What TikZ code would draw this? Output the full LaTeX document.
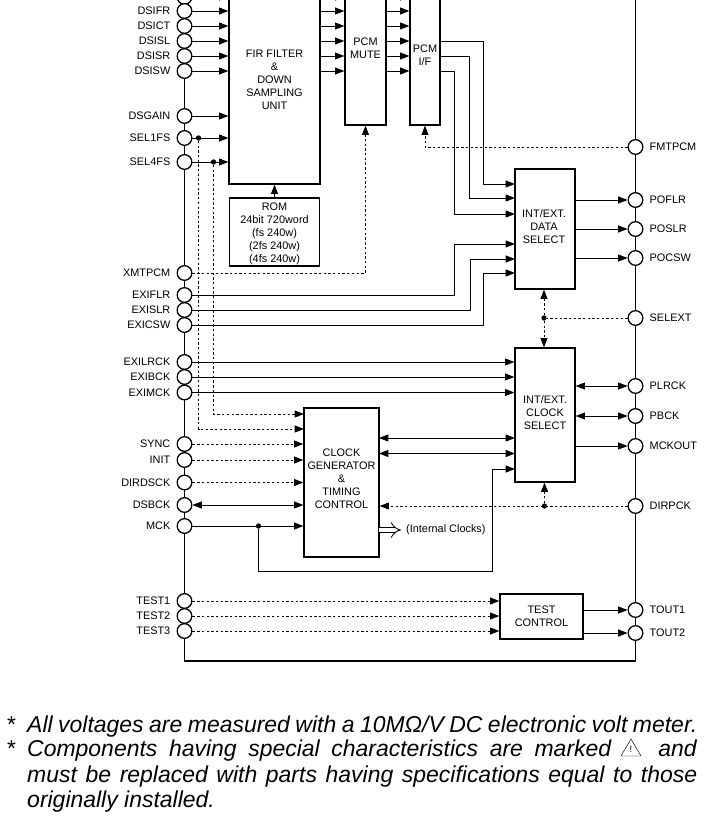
\documentclass[tikz,border=0pt]{standalone}
\usepackage{fontspec}
\setmainfont{Liberation Sans}
\usetikzlibrary{arrows.meta,calc}
\tikzset{
    every label/.style={font=\fontsize{9.3pt}{11pt}\selectfont,inner sep=0pt},
    label distance=0.18cm,
    pin/.style={circle,draw,fill=white,line width=1.1pt,minimum size=0.44cm,inner sep=0pt},
    dot/.style={circle,fill=black,minimum size=0.16cm,inner sep=0pt},
    box/.style={draw,line width=1.1pt,inner sep=0pt,align=center,font=\fontsize{9.3pt}{11.1pt}\selectfont},
    plaintext/.style={inner sep=0pt,font=\fontsize{9.3pt}{11.1pt}\selectfont,align=center},
    sig/.style={line width=0.75pt,-{Triangle[length=2.8mm,width=2.1mm]}},
    bisig/.style={line width=0.75pt,{Triangle[length=2.8mm,width=2.1mm]}-{Triangle[length=2.8mm,width=2.1mm]}},
    dsig/.style={sig,dash pattern=on 2pt off 2pt},
    noteline/.style={anchor=base west,inner sep=0pt,font=\fontsize{19.6pt}{22pt}\selectfont\itshape},
}

\begin{document}
\begin{tikzpicture}[x=0.03cm,y=-0.03cm]
    \clip (0,0) rectangle (717,818);

    % frame
    \draw[line width=1.1pt] (184.5,-5) -- (184.5,661) -- (635.5,661) -- (635.5,-5);

    % pins
    \foreach \pinname/\y in {DSIFL/-3,DSIFR/11,DSICT/26,DSISL/41,DSISR/56,DSISW/71,DSGAIN/116,SEL1FS/138,SEL4FS/162,XMTPCM/273,EXIFLR/295,EXISLR/310,EXICSW/325,EXILRCK/362,EXIBCK/377,EXIMCK/392.5,SYNC/444,INIT/460,DIRDSCK/482.5,DSBCK/505,MCK/526,TEST1/601,TEST2/616,TEST3/631}
        \node[pin,label={left:\pinname}] (\pinname) at (184.5,\y) {};
    \foreach \pinname/\y in {FMTPCM/147,POFLR/200,POSLR/229,POCSW/258,SELEXT/318,PLRCK/386,PBCK/416,MCKOUT/446,DIRPCK/506,TOUT1/610,TOUT2/633}
        \node[pin,label={right:\pinname}] (\pinname) at (635.5,\y) {};

    % blocks
    \node[box,minimum width=2.73cm,minimum height=6.24cm] (fir) at (274.5,80) {FIR FILTER\\\&\\DOWN\\SAMPLING\\UNIT};
    \node[box,minimum width=1.23cm,minimum height=4.62cm] (mute) at (365.5,48) {PCM\\MUTE};
    \node[box,minimum width=0.9cm,minimum height=4.2cm] (pcmif) at (425,55) {PCM\\I/F};
    \node[box,minimum width=2.7cm,minimum height=2.04cm] (rom) at (274.5,232) {};
    \node[plaintext] (romtext) at (274.5,233.5) {ROM\\24bit 720word\\(fs 240w)\\(2fs 240w)\\(4fs 240w)};
    \node[box,minimum width=1.8cm,minimum height=3.6cm] (datasel) at (545,229) {};
    \node[plaintext] (datatext) at (544,227) {INT/EXT.\\DATA\\SELECT};
    \node[box,minimum width=1.8cm,minimum height=4.02cm] (clksel) at (545,415) {};
    \node[plaintext] (clktext) at (545,413) {INT/EXT.\\CLOCK\\SELECT};
    \node[box,minimum width=2.25cm,minimum height=4.47cm] (clkgen) at (341.5,482.5) {};
    \node[plaintext] (gentext) at (341.5,478.5) {CLOCK\\GENERATOR\\\&\\TIMING\\CONTROL};
    \node[box,minimum width=2.49cm,minimum height=1.35cm] (testctl) at (541.5,616.5) {TEST\\CONTROL};

    % FIR inputs and data path
    \foreach \pinname in {DSIFL,DSIFR,DSICT,DSISL,DSISR,DSISW,DSGAIN,SEL1FS,SEL4FS}
        \draw[sig] (\pinname) -- (\pinname -| fir.west);
    \foreach \pinname in {DSIFL,DSIFR,DSICT,DSISL,DSISR,DSISW}{
        \draw[sig] (\pinname -| fir.east) -- (\pinname -| mute.west);
        \draw[sig] (\pinname -| mute.east) -- (\pinname -| pcmif.west);
    }
    \draw[sig] (rom.north) -- (rom.north |- fir.south);

    % PCM outputs to data select
    \draw[sig] (DSISL -| pcmif.east) -- ++(43,0) |- (515,184);
    \draw[sig] (DSISR -| pcmif.east) -- ++(29,0) |- (515,198);
    \draw[sig] (DSISW -| pcmif.east) -- ++(14,0) |- (515,214);
    \draw[sig] (EXIFLR) -- (454,295) |- (515,244);
    \draw[sig] (EXISLR) -- (470,310) |- (515,259);
    \draw[sig] (EXICSW) -- (483,325) |- (515,273);
    \foreach \pinname in {POFLR,POSLR,POCSW}
        \draw[sig] (\pinname -| datasel.east) -- (\pinname);

    % control lines
    \node[dot] (sel1dot) at (198.5,138) {};
    \node[dot] (sel4dot) at (213.5,162) {};
    \draw[dsig] (sel1dot) |- (304,429);
    \draw[dsig] (sel4dot) |- (304,414);
    \draw[dsig] (XMTPCM) -| (mute.south);
    \draw[dsig] (FMTPCM) -| (pcmif.south);
    \node[dot] (seldot) at (544,318) {};
    \draw[dsig,-] (SELEXT) -- (seldot);
    \draw[dsig] (seldot) -- (seldot |- datasel.south);
    \draw[dsig] (seldot) -- (seldot |- clksel.north);

    % clock path
    \foreach \pinname in {EXILRCK,EXIBCK,EXIMCK}
        \draw[sig] (\pinname) -- (\pinname -| clksel.west);
    \foreach \pinname in {SYNC,INIT,DIRDSCK}
        \draw[dsig] (\pinname) -- (\pinname -| clkgen.west);
    \draw[bisig] (DSBCK) -- (DSBCK -| clkgen.west);
    \draw[sig] (MCK) -- (MCK -| clkgen.west);
    \node[dot] (mckdot) at (258.5,526) {};
    \draw[sig] (mckdot) -- (258.5,571) -| (492,469) -- (515,469);
    \draw[bisig] (379,438) -- (515,438);
    \draw[bisig] (379,453.5) -- (515,453.5);
    \foreach \pinname in {PLRCK,PBCK}
        \draw[bisig] (\pinname -| clksel.east) -- (\pinname);
    \draw[sig] (MCKOUT -| clksel.east) -- (MCKOUT);
    \draw[dsig] (DIRPCK) -- (DIRPCK -| clkgen.east);
    \node[dot] (dirdot) at (544.5,506) {};
    \draw[dsig] (dirdot) -- (dirdot |- clksel.south);

    % internal clocks
    \coordinate (clkout) at (379,530);
    \node[plaintext,anchor=west] (intclk) at (406,530) {(Internal Clocks)};
    \draw[line width=0.7pt,double,double distance=4pt,-{Implies[length=2mm]}] (clkout) -- (401,530);

    % test block
    \foreach \pinname in {TEST1,TEST2,TEST3}
        \draw[dsig] (\pinname) -- (\pinname -| testctl.west);
    \foreach \pinname in {TOUT1,TOUT2}
        \draw[sig] (\pinname -| testctl.east) -- (\pinname);

    % notes
    \node[noteline] (star1) at (6,732) {*};
    \node[noteline] (note1) at (27,732) {\makebox[20.1cm][s]{All voltages are measured with a 10MΩ/V DC electronic volt meter.}};
    \node[noteline] (star2) at (6,756) {*};
    \node[noteline] (note2) at (27,756) {\makebox[17.52cm][s]{Components having special characteristics are marked}};
    \node[noteline,anchor=base east] (note2b) at (697,756) {and};
    \draw[line width=0.4pt] (621,756) -- (631,739) -- (641,756) -- cycle;
    \node[inner sep=0pt,font=\fontsize{8pt}{8pt}\selectfont] (warnmark) at (631,749.5) {!};
    \node[noteline] (note3) at (27,782) {\makebox[20.1cm][s]{must be replaced with parts having specifications equal to those}};
    \node[noteline] (note4) at (27,807) {originally installed.};
\end{tikzpicture}
\end{document}
